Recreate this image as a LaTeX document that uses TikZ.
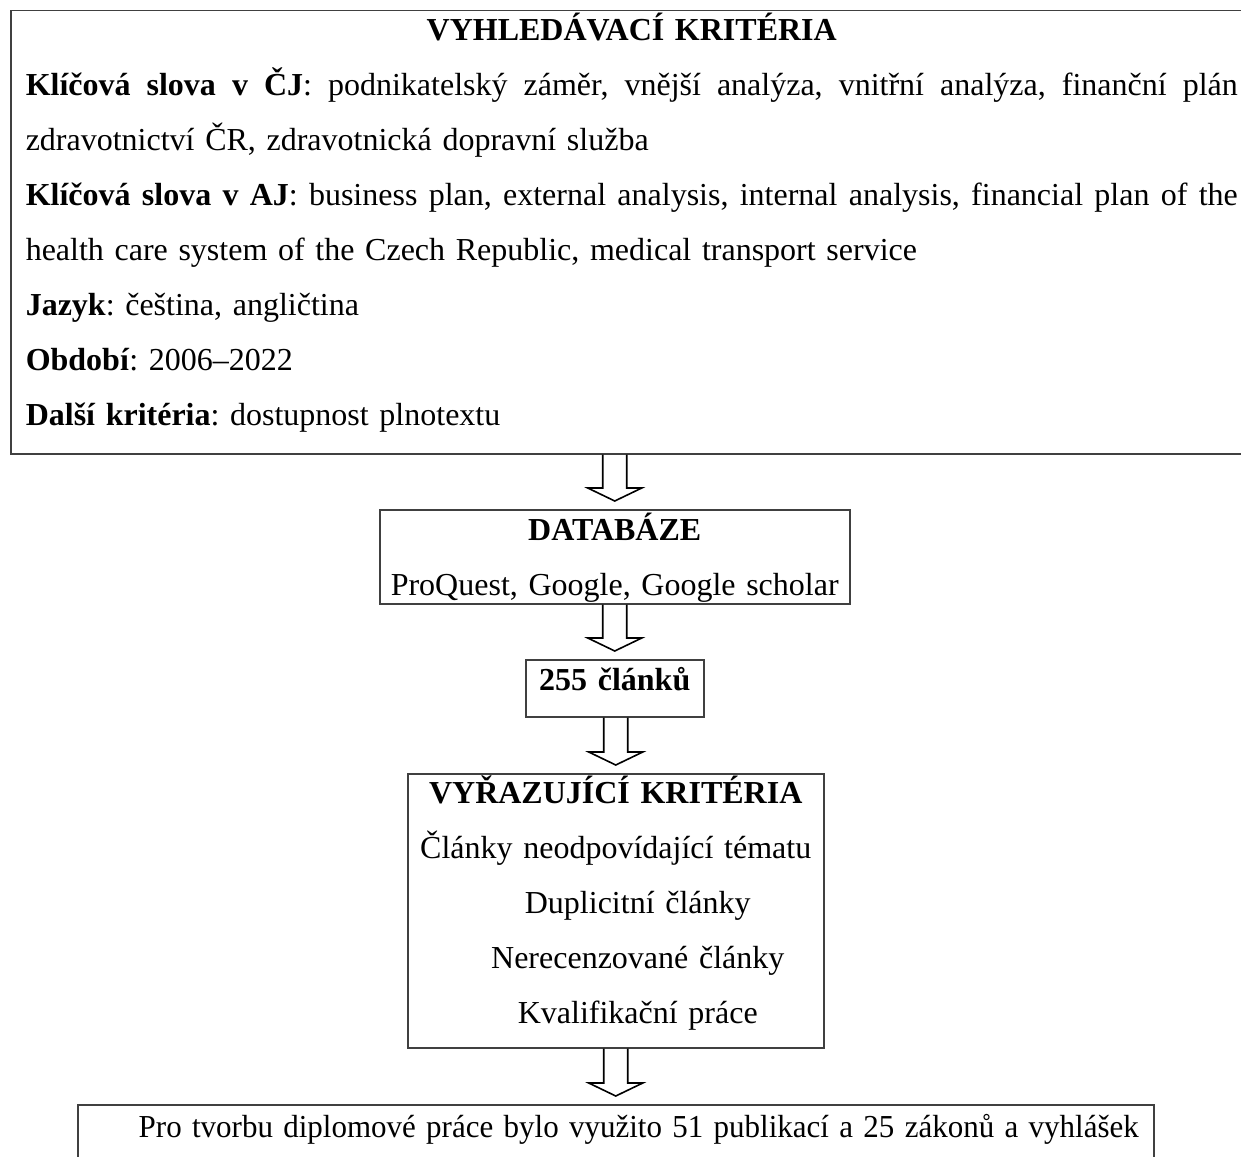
\documentclass[tikz,border=0pt]{standalone}
\usepackage{fontspec}
\setmainfont{Liberation Serif}
\usepackage{graphicx}
\usetikzlibrary{positioning, calc}
\frenchspacing
\newcommand{\fullline}[1]{\makebox[\linewidth][s]{\spaceskip=0pt\xspaceskip=0pt #1}}

\begin{document}
\begin{tikzpicture}[
    x=1pt, y=-1pt,
    font=\fontsize{32}{55}\selectfont,
    framebox/.style={draw=black!75, line width=1.5pt, rectangle, inner sep=0pt, anchor=north west},
    hollow/.style={draw=black, line width=1.6pt, line join=miter,
        to path={($(\tikztostart)+(-12,0)$) -- ($(\tikztotarget)+(-12,-21)$)
            -- ($(\tikztotarget)+(-27,-21)$) -- ($(\tikztotarget)+(0,-8)$)
            -- ($(\tikztotarget)+(27,-21)$) -- ($(\tikztotarget)+(12,-21)$)
            -- ($(\tikztostart)+(12,0)$)}}
]
    \useasboundingbox (0,0) rectangle (1241,1156);
    \clip (0,0) rectangle (1241,1156);

    % search criteria (right edge runs off the page)
    \node[framebox, inner xsep=15pt, text width=1212pt, align=left,
          text height=30pt, text depth=413pt] (search) at (10,10) {%
        \makebox[\linewidth][c]{\textbf{VYHLEDÁVACÍ KRITÉRIA}}\\
        \fullline{\textbf{Klíčová slova v ČJ}: podnikatelský záměr, vnější analýza, vnitřní analýza, finanční plán}\\
        zdravotnictví ČR, zdravotnická dopravní služba\\
        \fullline{\textbf{Klíčová slova v AJ}: business plan, external analysis, internal analysis, financial plan of the}\\
        health care system of the Czech Republic, medical transport service\\
        \textbf{Jazyk}: čeština, angličtina\\
        \textbf{Období}: 2006–2022\\
        \textbf{Další kritéria}: dostupnost plnotextu};

    % databases
    \node[framebox, text width=470pt, align=center,
          text height=31pt, text depth=63pt] (db) at (379,509) {%
        \textbf{DATABÁZE}\\
        ProQuest, Google, Google scholar};

    % number of articles
    \node[framebox, text width=178pt, align=center,
          text height=31pt, text depth=26pt] (found) at (525,659) {\textbf{255 článků}};

    % exclusion criteria
    \node[framebox, text width=416pt, align=center,
          text height=30pt, text depth=244pt] (excl) at (407,773) {%
        \textbf{VYŘAZUJÍCÍ KRITÉRIA}\\
        Články neodpovídající tématu\\
        \hspace*{44pt}Duplicitní články\\
        \hspace*{44pt}Nerecenzované články\\
        \hspace*{44pt}Kvalifikační práce};

    % result (bottom edge runs off the page)
    \node[framebox, text width=1076pt, align=center,
          text height=33pt, text depth=40pt] (result) at (77,1104) {%
        \hspace*{46pt}\resizebox{1000pt}{\height}{Pro tvorbu diplomové práce bylo využito 51 publikací a 25 zákonů a vyhlášek}};

    % hollow arrows between the steps
    \draw[hollow] (search.south -| db.north) to (db.north);
    \draw[hollow] (db.south -| found.north) to (found.north);
    \draw[hollow] (found.south -| excl.north) to (excl.north);
    \draw[hollow] (excl.south) to (result.north -| excl.south);
\end{tikzpicture}
\end{document}
